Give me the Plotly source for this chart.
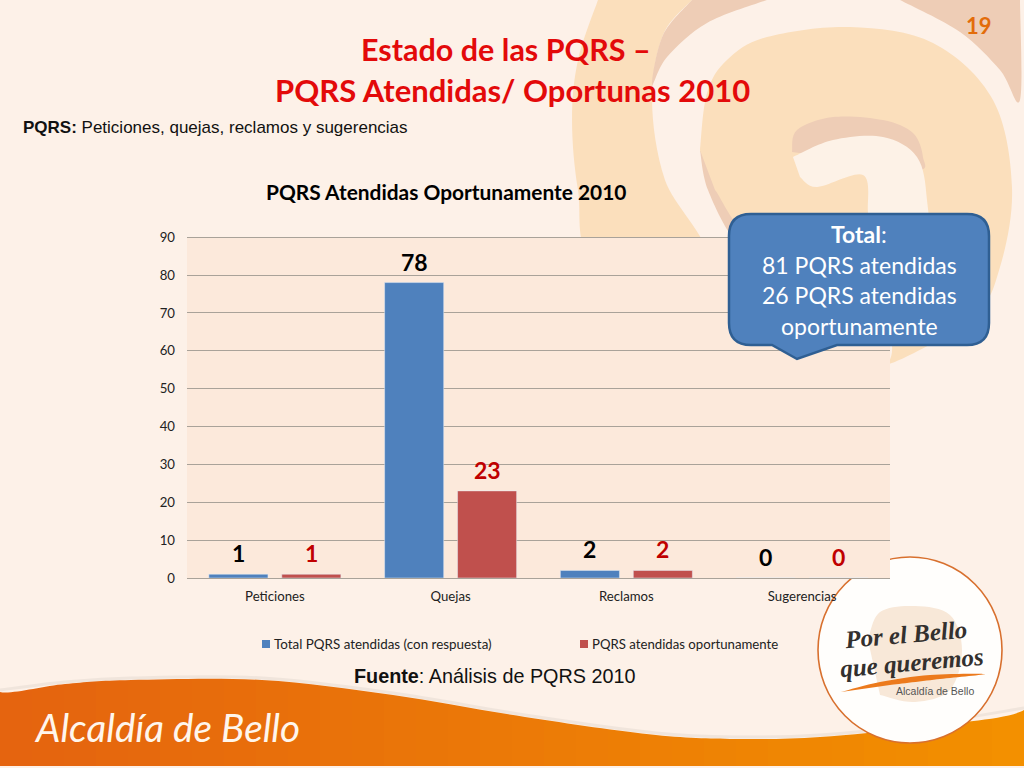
import plotly.graph_objects as go

# datos del grafico
categorias = ["Peticiones", "Quejas", "Reclamos", "Sugerencias"]
total_atendidas = [1, 78, 2, 0]
oportunas = [1, 23, 2, 0]
ticks_y = [0, 10, 20, 30, 40, 50, 60, 70, 80, 90]
nombre_total = "Total PQRS atendidas (con respuesta)"
nombre_oportunas = "PQRS atendidas oportunamente"
texto_caja = ["<b>Total</b>:", "81 PQRS atendidas", "26 PQRS atendidas", "oportunamente"]

AZUL = "#4F81BD"
ROJO = "#C0504D"
FONDO = "#FDF1E8"
AREA = "#FCE9DB"
AMARILLO = "#FBDFBC"
ROSA = "#EECDB6"
CREMA = "#FDF2E7"

# area del grafico en pixeles (arriba 1px de mas para que se vea la rejilla de 90)
X0, X1, Y0, Y1 = 187, 890, 236, 578


def fx(x):
    return (x - X0) / (X1 - X0)


def fy(y):
    return (Y1 - y) / (Y1 - Y0)


def curva(puntos, cerrar=True):
    # catmull-rom a bezier, en coordenadas de pixel
    p = puntos
    s = "M%.4f,%.4f" % (fx(p[0][0]), fy(p[0][1]))
    for i in range(len(p) - 1):
        a = p[max(i - 1, 0)]
        b = p[i]
        c = p[i + 1]
        d = p[min(i + 2, len(p) - 1)]
        c1 = (b[0] + (c[0] - a[0]) / 6, b[1] + (c[1] - a[1]) / 6)
        c2 = (c[0] - (d[0] - b[0]) / 6, c[1] - (d[1] - b[1]) / 6)
        s += "C%.4f,%.4f %.4f,%.4f %.4f,%.4f" % (fx(c1[0]), fy(c1[1]), fx(c2[0]), fy(c2[1]), fx(c[0]), fy(c[1]))
    return s + ("Z" if cerrar else "")


def forma(puntos, color, linea=None, ancho=0, cerrar=True, opacidad=1):
    return dict(type="path", xref="paper", yref="paper", layer="below", path=curva(puntos, cerrar),
                fillcolor=color if cerrar else None, opacity=opacidad,
                line=dict(color=linea or "rgba(0,0,0,0)", width=ancho))


def rect(x0, y0, x1, y1, color):
    return dict(type="rect", xref="paper", yref="paper", layer="below", x0=fx(x0), x1=fx(x1), y0=fy(y0), y1=fy(y1),
                fillcolor=color, line=dict(width=0))


def elipse(x0, y0, x1, y1, color, linea=None, ancho=0):
    return dict(type="circle", xref="paper", yref="paper", layer="below", x0=fx(x0), x1=fx(x1), y0=fy(y0), y1=fy(y1),
                fillcolor=color, line=dict(color=linea or "rgba(0,0,0,0)", width=ancho))


formas = []
# espiral de fondo
formas.append(forma([(598, 0), (578, 60), (572, 120), (578, 190), (595, 260), (705, 260), (665, 180), (652, 100), (663, 35), (692, 0)], AMARILLO))
formas.append(forma([(692, 0), (663, 35), (652, 85), (667, 57), (707, 23), (767, 0)], ROSA))
formas.append(forma([(900, 0), (960, 32), (1000, 70), (1020, 100), (1020, 0)], ROSA))
formas.append(forma([(700, 150), (708, 190), (735, 240), (760, 240), (730, 180)], ROSA))
formas.append(forma([(700, 150), (707, 93), (727, 60), (767, 37), (850, 27), (933, 43), (993, 100), (1012, 187),
                     (1000, 267), (973, 317), (892, 363), (892, 345), (880, 240), (760, 240), (715, 190)], AMARILLO))
formas.append(forma([(792, 152), (797, 130), (833, 117), (883, 120), (913, 133), (923, 157), (918, 170), (850, 160)], ROSA))
formas.append(forma([(793, 157), (833, 140), (883, 137), (917, 157), (927, 200), (927, 260), (890, 345), (870, 240),
                     (868, 213), (863, 175), (817, 187), (800, 177)], CREMA))

# franja naranja inferior en degradado
n = 32
for i in range(n):
    t = i / (n - 1)
    r = int(229 + (243 - 229) * t)
    g = int(100 + (144 - 100) * t)
    b = int(15 - 15 * t)
    formas.append(rect(i * 1024 / n, 670, (i + 1) * 1024 / n + 1, 766, "rgb(%d,%d,%d)" % (r, g, b)))
borde = [(0, 692), (65, 684), (131, 680), (262, 680), (393, 695), (525, 717), (656, 735), (740, 739), (820, 737), (918, 727), (1024, 710)]
formas.append(forma([(0, 668)] + borde + [(1024, 668)], FONDO))
formas.append(forma([(x, y - 2) for x, y in borde], None, "#8A8078", 3, cerrar=False, opacidad=0.1))

# logo
formas.append(elipse(818, 557, 1002, 743, "#FFFEFC", "#D8702E", 1.6))
formas.append(forma([(868, 640), (880, 612), (915, 606), (950, 615), (962, 650), (950, 690), (915, 702), (880, 695)], "#F8E8D8"))
formas.append(forma([(841, 692), (880, 682), (930, 675), (985, 674), (940, 679), (890, 685)], "#EC7A1C"))

# area del grafico y cuadro
formas.append(rect(X0, 237, X1, Y1, AREA))

# leyenda
formas.append(rect(262, 640, 270, 648, AZUL))
formas.append(rect(580, 640, 588, 648, ROJO))

caja = ("M{a},{b}Q{a},{c} {d},{c}L{e},{c}Q{f},{c} {f},{b}L{f},{g}Q{f},{h} {e},{h}"
        "L{t2},{h2}L{tx},{ty}L{t1},{h}L{d},{h}Q{a},{h} {a},{g}Z").format(
    a=fx(729), b=fy(236), c=fy(214), d=fx(751), e=fx(967), f=fx(989), g=fy(323), h=fy(345),
    t1=fx(772), t2=fx(837), h2=fy(345), tx=fx(797), ty=fy(359))
cuadro = dict(type="path", xref="paper", yref="paper", layer="above", path=caja, fillcolor=AZUL,
              line=dict(color="#2F5F93", width=2.5))

anotaciones = []


def texto(x, y, s, size, color, font="Lato", anchor="center", angulo=0):
    anotaciones.append(dict(xref="paper", yref="paper", x=fx(x), y=fy(y), text=s, showarrow=False, xanchor=anchor,
                            yanchor="middle", textangle=angulo, font=dict(family=font, size=size, color=color)))


texto(506, 49, "<b>Estado de las PQRS –</b>", 30.5, "#E30A0A")
texto(512, 90, "<b>PQRS Atendidas/ Oportunas 2010</b>", 31, "#E30A0A")
texto(21, 127, "<b>PQRS:</b> Peticiones, quejas, reclamos y sugerencias", 17, "#111111", "Liberation Sans", "left")
texto(445.5, 192, "<b>PQRS Atendidas Oportunamente 2010</b>", 20.9, "#000000")
texto(979, 25, "<b>19</b>", 22, "#E36C0A")
texto(494.5, 676, "<b>Fuente</b>: Análisis de PQRS 2010", 19.8, "#111111", "Liberation Sans")
texto(167, 727, "<i>Alcaldía de Bello</i>", 38.7, "#FFF6EC", "Lato")
texto(905, 634, "<i><b>Por el Bello</b></i>", 25, "#33302E", "Liberation Serif", angulo=-5)
texto(912, 662, "<i><b>que queremos</b></i>", 25, "#33302E", "Liberation Serif", angulo=-5)
texto(935, 691, "Alcaldía de Bello", 10.5, "#555555", "Liberation Sans")
texto(272, 644, nombre_total, 13.4, "#222222", "Lato", "left")
texto(590, 644, nombre_oportunas, 13.2, "#222222", "Lato", "left")

for s, y in zip(texto_caja, [234, 265, 295, 326]):
    texto(859, y, s, 23, "#FFFFFF")

# etiquetas de datos
for cat, v, w in zip(categorias, total_atendidas, oportunas):
    anotaciones.append(dict(x=cat, y=v, text="<b>%d</b>" % v, showarrow=False, xshift=-36.5, yshift=21, yanchor="middle",
                            font=dict(family="Lato", size=23, color="#000000")))
    anotaciones.append(dict(x=cat, y=w, text="<b>%d</b>" % w, showarrow=False, xshift=36.5, yshift=21, yanchor="middle",
                            font=dict(family="Lato", size=23, color="#C00000")))

trace1 = go.Bar(x=categorias, y=total_atendidas, name=nombre_total, marker=dict(color=AZUL))
trace2 = go.Bar(x=categorias, y=oportunas, name=nombre_oportunas, marker=dict(color=ROJO))

layout = go.Layout(
    width=1024, height=768, autosize=False,
    margin=dict(l=X0, r=1024 - X1, t=Y0, b=768 - Y1, pad=0),
    paper_bgcolor=FONDO, plot_bgcolor="rgba(0,0,0,0)",
    barmode="group", bargap=0.17, bargroupgap=0.19,
    font=dict(family="Lato", size=13.2, color="#222222"),
    shapes=formas + [cuadro],
    annotations=anotaciones,
    showlegend=False,
)
fig = go.Figure(data=[trace1, trace2], layout=layout)
fig.update_yaxes(range=[0, 90.3], tickvals=ticks_y, gridcolor="#A9A299", gridwidth=1.3, zeroline=False,
                 showline=False, ticks="", ticklabelstandoff=11)
fig.update_xaxes(showline=True, linecolor="#A9A299", linewidth=1.3, ticks="", ticklabelstandoff=6, showgrid=False)

fig.write_html("out.html", config=dict(displayModeBar=False), post_script="document.body.style.margin='0';")
